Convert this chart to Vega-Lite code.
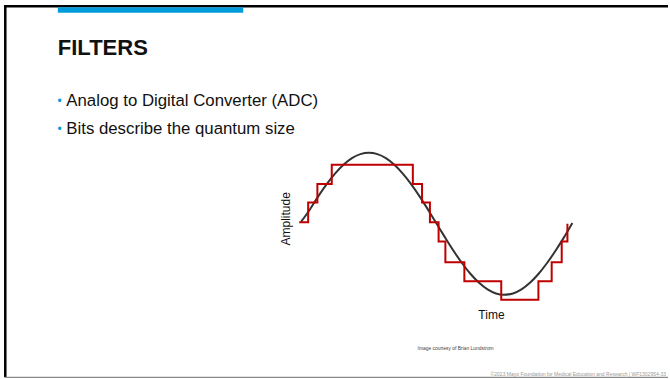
{
  "$schema": "https://vega.github.io/schema/vega-lite/v6.json",
  "width": 670,
  "height": 379,
  "autosize": {"type": "fit", "contains": "padding"},
  "padding": 0,
  "background": "white",
  "config": {"view": {"stroke": null}, "font": "Liberation Sans"},
  "datasets": {
    "frame": [
      {"x0": 5.7, "x1": 960, "y0": 8.8, "y1": 8.8},
      {"x0": 7.6, "x1": 7.6, "y0": 7.2, "y1": 537.6}
    ],
    "baseline": [
      {"x0": 7.6, "x1": 960, "y0": 537.6, "y1": 537.6}
    ],
    "accent": [
      {"x0": 83.1, "x1": 349.6, "y0": 10.4, "y1": 18.1}
    ],
    "heading": [
      {"text": "FILTERS", "x": 83.1, "y": 79.0}
    ],
    "bullets": [
      {"text": "Analog to Digital Converter (ADC)", "x": 95.3, "y": 150.4},
      {"text": "Bits describe the quantum size", "x": 95.3, "y": 190.3}
    ],
    "credit": [
      {"text": "Image courtesy of Brian Lundstrom", "x": 654.8, "y": 499.1}
    ],
    "footer": [
      {"text": "©2023 Mayo Foundation for Medical Education and Research  |  WF1302954-33", "x": 957.1, "y": 535.7}
    ],
    "signal": [
      {"t": 0.0, "amplitude": 0.03},
      {"t": 0.03125, "amplitude": 0.195},
      {"t": 0.0625, "amplitude": 0.383},
      {"t": 0.09375, "amplitude": 0.556},
      {"t": 0.125, "amplitude": 0.707},
      {"t": 0.15625, "amplitude": 0.831},
      {"t": 0.1875, "amplitude": 0.924},
      {"t": 0.21875, "amplitude": 0.981},
      {"t": 0.25, "amplitude": 1.0},
      {"t": 0.28125, "amplitude": 0.981},
      {"t": 0.3125, "amplitude": 0.924},
      {"t": 0.34375, "amplitude": 0.831},
      {"t": 0.375, "amplitude": 0.707},
      {"t": 0.40625, "amplitude": 0.556},
      {"t": 0.4375, "amplitude": 0.383},
      {"t": 0.46875, "amplitude": 0.195},
      {"t": 0.5, "amplitude": 0.0},
      {"t": 0.53125, "amplitude": -0.195},
      {"t": 0.5625, "amplitude": -0.383},
      {"t": 0.59375, "amplitude": -0.556},
      {"t": 0.625, "amplitude": -0.707},
      {"t": 0.65625, "amplitude": -0.831},
      {"t": 0.6875, "amplitude": -0.924},
      {"t": 0.71875, "amplitude": -0.981},
      {"t": 0.745, "amplitude": -1.0},
      {"t": 0.78125, "amplitude": -0.981},
      {"t": 0.8125, "amplitude": -0.924},
      {"t": 0.84375, "amplitude": -0.831},
      {"t": 0.875, "amplitude": -0.707},
      {"t": 0.90625, "amplitude": -0.556},
      {"t": 0.9375, "amplitude": -0.383},
      {"t": 0.96875, "amplitude": -0.195},
      {"t": 1.0, "amplitude": 0.01}
    ],
    "quantized": [
      {"t": -0.007, "level": 0.02},
      {"t": 0.026, "level": 0.3},
      {"t": 0.06, "level": 0.56},
      {"t": 0.113, "level": 0.83},
      {"t": 0.412, "level": 0.56},
      {"t": 0.446, "level": 0.3},
      {"t": 0.475, "level": 0.02},
      {"t": 0.507, "level": -0.25},
      {"t": 0.532, "level": -0.54},
      {"t": 0.602, "level": -0.81},
      {"t": 0.738, "level": -1.07},
      {"t": 0.875, "level": -0.81},
      {"t": 0.924, "level": -0.54},
      {"t": 0.961, "level": -0.25},
      {"t": 0.982, "level": 0.0}
    ],
    "yLabel": [{"text": "Amplitude", "t": -0.0548, "amplitude": 0.07}],
    "xLabel": [{"text": "Time", "t": 0.702, "amplitude": -1.341}]
  },
  "layer": [
    {
      "layer": [
        {
          "data": {"name": "frame"},
          "mark": {"type": "rule", "color": "#000000", "strokeWidth": 2.5},
          "encoding": {
            "x": {"field": "x0", "type": "quantitative", "scale": {"domain": [0, 960], "nice": false, "zero": false}, "axis": null},
            "x2": {"field": "x1"},
            "y": {"field": "y0", "type": "quantitative", "scale": {"domain": [0, 540], "nice": false, "zero": false, "reverse": true}, "axis": null},
            "y2": {"field": "y1"}
          }
        },
        {
          "data": {"name": "baseline"},
          "mark": {"type": "rule", "color": "#8a8a8a", "strokeWidth": 1.2},
          "encoding": {
            "x": {"field": "x0", "type": "quantitative"},
            "x2": {"field": "x1"},
            "y": {"field": "y0", "type": "quantitative"},
            "y2": {"field": "y1"}
          }
        },
        {
          "data": {"name": "accent"},
          "mark": {"type": "rect", "color": "#009bdb"},
          "encoding": {
            "x": {"field": "x0", "type": "quantitative"},
            "x2": {"field": "x1"},
            "y": {"field": "y0", "type": "quantitative"},
            "y2": {"field": "y1"}
          }
        },
        {
          "data": {"name": "heading"},
          "mark": {"type": "text", "align": "left", "baseline": "alphabetic", "fontSize": 22, "fontWeight": "bold", "color": "#111111"},
          "encoding": {
            "x": {"field": "x", "type": "quantitative"},
            "y": {"field": "y", "type": "quantitative"},
            "text": {"field": "text"}
          }
        },
        {
          "data": {"name": "bullets"},
          "mark": {"type": "text", "align": "left", "baseline": "alphabetic", "fontSize": 16.8, "color": "#111111"},
          "encoding": {
            "x": {"field": "x", "type": "quantitative"},
            "y": {"field": "y", "type": "quantitative"},
            "text": {"field": "text"}
          }
        },
        {
          "data": {"name": "bullets"},
          "mark": {"type": "text", "align": "center", "baseline": "alphabetic", "fontSize": 12, "color": "#009bdb", "text": "•", "dx": -6.8, "dy": -1},
          "encoding": {
            "x": {"field": "x", "type": "quantitative"},
            "y": {"field": "y", "type": "quantitative"}
          }
        },
        {
          "data": {"name": "credit"},
          "mark": {"type": "text", "align": "center", "baseline": "alphabetic", "fontSize": 4.9, "color": "#444444"},
          "encoding": {
            "x": {"field": "x", "type": "quantitative"},
            "y": {"field": "y", "type": "quantitative"},
            "text": {"field": "text"}
          }
        },
        {
          "data": {"name": "footer"},
          "mark": {"type": "text", "align": "right", "baseline": "alphabetic", "fontSize": 5, "color": "#9a9a9a"},
          "encoding": {
            "x": {"field": "x", "type": "quantitative"},
            "y": {"field": "y", "type": "quantitative"},
            "text": {"field": "text"}
          }
        }
      ]
    },
    {
      "layer": [
        {
          "data": {"name": "signal"},
          "mark": {"type": "line", "color": "#333333", "strokeWidth": 2, "interpolate": "monotone"},
          "encoding": {
            "x": {"field": "t", "type": "quantitative", "scale": {"domain": [-1.1103, 1.3529], "nice": false, "zero": false}, "axis": null},
            "y": {"field": "amplitude", "type": "quantitative", "scale": {"domain": [-2.186, 3.152], "nice": false, "zero": false}, "axis": null}
          }
        },
        {
          "data": {"name": "quantized"},
          "mark": {"type": "line", "color": "#c00000", "strokeWidth": 2, "interpolate": "step-after"},
          "encoding": {
            "x": {"field": "t", "type": "quantitative"},
            "y": {"field": "level", "type": "quantitative"}
          }
        },
        {
          "data": {"name": "yLabel"},
          "mark": {"type": "text", "align": "center", "baseline": "middle", "angle": 270, "fontSize": 12, "color": "#111111"},
          "encoding": {
            "x": {"field": "t", "type": "quantitative"},
            "y": {"field": "amplitude", "type": "quantitative"},
            "text": {"field": "text"}
          }
        },
        {
          "data": {"name": "xLabel"},
          "mark": {"type": "text", "align": "center", "baseline": "alphabetic", "fontSize": 12, "color": "#111111"},
          "encoding": {
            "x": {"field": "t", "type": "quantitative"},
            "y": {"field": "amplitude", "type": "quantitative"},
            "text": {"field": "text"}
          }
        }
      ]
    }
  ],
  "resolve": {"scale": {"x": "independent", "y": "independent"}}
}
